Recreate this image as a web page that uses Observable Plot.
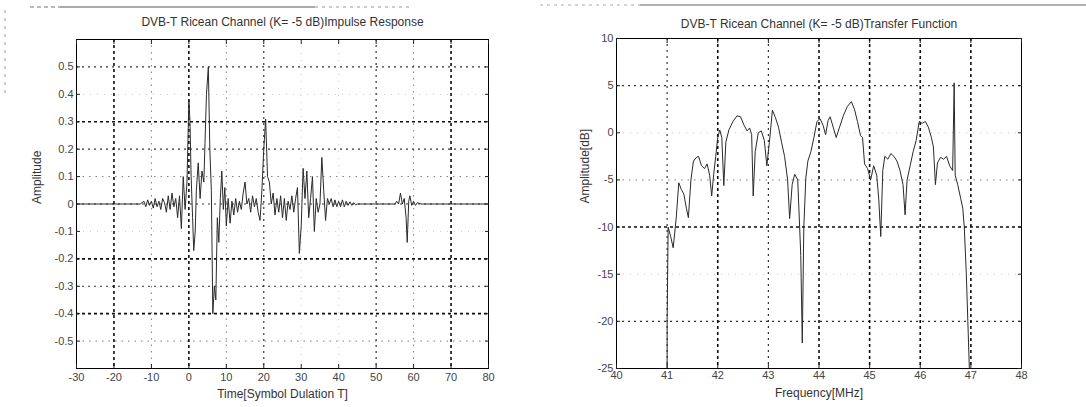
<!DOCTYPE html>
<html>
<head>
<meta charset="utf-8">
<script src="https://cdn.jsdelivr.net/npm/d3@7"></script>
<script src="https://cdn.jsdelivr.net/npm/@observablehq/plot@0.6"></script>
<style>
  body { margin: 0; background: #fff; }
  #wrap { position: relative; width: 1086px; height: 407px; overflow: hidden; background: #fff; }
  #wrap svg { position: absolute; top: 0; }
</style>
</head>
<body>
<div id="wrap"></div>
<script>
// ---- Impulse response of the Ricean channel (time in symbol durations T) ----
const impulseTime = [
  -30, -13, -12, -11.5, -11, -10.5, -10, -9.5, -9, -8.5,
  -8, -7.5, -7, -6.5, -6, -5.5, -5, -4.5, -4, -3.5,
  -3, -2.5, -2, -1.5, -1, -0.5, 0, 0.3, 0.6, 1,
  1.3, 1.7, 2, 2.5, 3, 3.5, 4, 4.3, 4.7, 5.2,
  5.6, 6, 6.4, 6.8, 7.2, 7.6, 8, 8.4, 8.8, 9.2,
  9.6, 10, 10.5, 11, 11.5, 12, 12.5, 13, 13.5, 14,
  14.5, 15, 15.5, 16, 16.5, 17, 17.5, 18, 18.5, 19,
  19.5, 20, 20.5, 21, 21.5, 22, 22.5, 23, 23.5, 24,
  24.5, 25, 25.5, 26, 26.5, 27, 27.5, 28, 28.5, 29,
  29.5, 30, 30.5, 31, 31.5, 32, 32.5, 33, 33.5, 34,
  34.5, 35, 35.5, 36, 36.5, 37, 37.5, 38, 38.5, 39,
  39.5, 40, 40.5, 41, 41.5, 42, 42.5, 43, 43.5, 44,
  44.5, 45, 55, 55.5, 56, 56.5, 57, 57.5, 58, 58.3,
  58.7, 59, 59.5, 60, 60.5, 61, 62, 80
];
const impulseAmp = [
  0, 0, 0.01, -0.01, 0.015, -0.005, 0.01, -0.015, 0.02, -0.01,
  0.01, -0.02, 0.02, 0.005, -0.03, 0.03, -0.02, 0.04, -0.01, 0.02,
  -0.05, 0.03, -0.09, 0.10, -0.02, 0.08, 0.38, 0.30, 0.10, -0.05,
  -0.17, -0.10, 0.05, 0.15, 0.02, 0.12, 0.08, 0.22, 0.40, 0.50,
  0.20, 0.05, -0.40, -0.30, -0.35, -0.05, -0.14, 0.02, 0.12, -0.02,
  0.06, -0.08, 0.02, -0.07, 0.01, -0.04, 0.02, -0.03, 0.01, -0.02,
  0.04, 0.08, 0.00, 0.02, -0.03, 0.03, -0.01, 0.02, -0.03, -0.06,
  0.05, 0.20, 0.31, 0.10, 0.08, 0.00, 0.04, -0.04, 0.02, -0.03,
  0.03, -0.05, 0.02, -0.06, 0.01, -0.02, 0.03, -0.03, 0.02, 0.06,
  -0.18, -0.08, 0.13, 0.02, 0.12, -0.05, 0.02, 0.10, -0.10, 0.02,
  -0.03, 0.00, 0.17, 0.05, -0.06, 0.02, 0.00, 0.02, -0.01, 0.015,
  -0.01, 0.01, -0.01, 0.015, -0.01, 0.01, -0.005, 0.008, -0.005, 0.005,
  -0.003, 0, 0, 0.01, 0.00, 0.04, 0.00, 0.02, -0.05, -0.14,
  0.01, 0.03, -0.005, 0.01, -0.005, 0.005, 0, 0
];

// ---- Transfer function (frequency in MHz, gain in dB) ----
const freqMHz = [
  41.0, 41.0, 41.02, 41.07, 41.12, 41.18, 41.23, 41.28, 41.33, 41.38,
  41.42, 41.47, 41.52, 41.58, 41.62, 41.68, 41.74, 41.79, 41.84, 41.88,
  41.92, 41.96, 42.0, 42.04, 42.08, 42.12, 42.16, 42.22, 42.3, 42.38,
  42.45, 42.52, 42.58, 42.63, 42.67, 42.7, 42.74, 42.8, 42.86, 42.92,
  42.97, 43.02, 43.08, 43.14, 43.2, 43.26, 43.32, 43.38, 43.42, 43.47,
  43.52, 43.58, 43.64, 43.67, 43.7, 43.74, 43.78, 43.84, 43.9, 43.96,
  44.02, 44.08, 44.13, 44.18, 44.22, 44.28, 44.34, 44.4, 44.48, 44.56,
  44.64, 44.7, 44.76, 44.82, 44.86, 44.9, 44.96, 45.02, 45.08, 45.14,
  45.18, 45.22, 45.26, 45.3, 45.36, 45.42, 45.48, 45.54, 45.6, 45.66,
  45.7, 45.74, 45.8, 45.86, 45.92, 45.98, 46.04, 46.1, 46.16, 46.22,
  46.26, 46.3, 46.34, 46.4, 46.46, 46.52, 46.58, 46.64, 46.67, 46.69,
  46.74, 46.8, 46.84, 46.87, 46.91, 46.94, 46.97
];
const gainDb = [
  -25, -20, -10, -11, -12.2, -9, -5.3, -6, -6.5, -8,
  -9, -5, -3, -2.6, -2.5, -3.5, -3.8, -3.3, -4.5, -6.7,
  -4.4, -2.5, -0.5, 0.3, -0.5, -5.6, -1, 0.3, 1.2, 1.8,
  1.7, 0.8, 0.2, 0.5, -0.2, -6.7, -2, 0, 0.2, -0.8,
  -3.5, -1, 2.4, 1.6, 0.6, -1, -2.5, -5, -9.1, -5.5,
  -4.4, -5, -13, -22.3, -10, -4.8, -3, -2, -0.5, 1.2,
  1.5, 0.8, -0.2, 1.3, 1.7, 0.6, -0.5, 0.5, 1.8, 2.8,
  3.3, 2.5, 1.2, -0.3, -0.5, -3.3, -3.8, -5, -3.5, -4.5,
  -7, -11, -4, -2.5, -2.8, -2.2, -2.5, -3, -4, -5.5,
  -8.7, -5, -3.5, -2, -0.8, 1.2, 1.0, 1.2, 0.6, -0.5,
  -1.5, -5.5, -3.2, -2.6, -2.8, -2.5, -3.5, -4, 5.3, -4.5,
  -5.5, -7, -8, -10, -15, -20, -25
];

// ---- Tick values ----
const timeTicks = [-30, -20, -10, 0, 10, 20, 30, 40, 50, 60, 70, 80];
const ampTicks = [-0.5, -0.4, -0.3, -0.2, -0.1, 0, 0.1, 0.2, 0.3, 0.4, 0.5];
const freqTicks = [40, 41, 42, 43, 44, 45, 46, 47, 48];
const dbTicks = [-25, -20, -15, -10, -5, 0, 5, 10];

// Dotted grid weights (how strongly each grid line prints)
const gridStyle = {
  bold:   {strokeWidth: 1.6, strokeDasharray: "3,3", strokeOpacity: 0.95},
  medium: {strokeWidth: 1.2, strokeDasharray: "2,4", strokeOpacity: 0.8},
  light:  {strokeWidth: 1,   strokeDasharray: "1.5,5", strokeOpacity: 0.5},
  faint:  {strokeWidth: 1,   strokeDasharray: "1,6", strokeOpacity: 0.22}
};
const impulseGridX = {"-20": "bold", "-10": "light", "0": "bold", "10": "light", "20": "medium",
  "30": "faint", "40": "faint", "50": "medium", "60": "light", "70": "bold"};
const impulseGridY = {"0.5": "medium", "0.4": "faint", "0.3": "bold", "0.2": "medium", "0.1": "light",
  "0": "medium", "-0.1": "faint", "-0.2": "bold", "-0.3": "medium", "-0.4": "bold", "-0.5": "light"};
const transferGridX = {"41": "medium", "42": "bold", "43": "medium", "44": "bold", "45": "bold", "46": "bold", "47": "bold"};
const transferGridY = {"5": "medium", "0": "faint", "-5": "light", "-10": "bold", "-15": "faint", "-20": "medium"};

const fontFamily = "'Liberation Sans', Arial, sans-serif";
const fmt = d => String(d);

function grid(xTicks, xWeights, yTicks, yWeights) {
  const marks = [];
  for (const w of Object.keys(gridStyle)) {
    const xs = xTicks.filter(t => xWeights[String(t)] === w);
    const ys = yTicks.filter(t => yWeights[String(t)] === w);
    if (xs.length) marks.push(Plot.ruleX(xs, {stroke: "#000", ...gridStyle[w]}));
    if (ys.length) marks.push(Plot.ruleY(ys, {stroke: "#000", ...gridStyle[w]}));
  }
  return marks;
}

// Boxed axes with inward ticks on all four sides
function boxAxes(xTicks, yTicks, xPad, yPad) {
  return [
    Plot.frame({stroke: "#000", strokeWidth: 1}),
    Plot.axisX(xTicks, {anchor: "bottom", tickSize: -4, tickPadding: xPad, tickFormat: fmt, label: null, fill: "#444"}),
    Plot.axisX(xTicks, {anchor: "top", tickSize: -4, tickFormat: () => "", label: null}),
    Plot.axisY(yTicks, {anchor: "left", tickSize: -4, tickPadding: yPad, tickFormat: fmt, label: null, fill: "#444"}),
    Plot.axisY(yTicks, {anchor: "right", tickSize: -4, tickFormat: () => "", label: null})
  ];
}

const impulse = impulseTime.map((t, i) => ({t, a: impulseAmp[i]}));
const transfer = freqMHz.map((f, i) => ({f, g: gainDb[i]}));

const left = Plot.plot({
  width: 543, height: 407,
  marginLeft: 76, marginRight: 55, marginTop: 39, marginBottom: 39,
  x: {domain: [-30, 80]},
  y: {domain: [-0.6, 0.6]},
  style: {fontFamily, fontSize: "11px", background: "transparent", color: "#222"},
  marks: [
    ...grid(timeTicks, impulseGridX, ampTicks, impulseGridY),
    Plot.line(impulse, {x: "t", y: "a", stroke: "#2a2a2a", strokeWidth: 1}),
    ...boxAxes(timeTicks, ampTicks, 9, 7),
    Plot.text(["DVB-T Ricean Channel (K= -5 dB)Impulse Response"], {text: d => d, frameAnchor: "top", dy: -22, fontSize: 12, fill: "#333"}),
    Plot.text(["Time[Symbol Dulation T]"], {text: d => d, frameAnchor: "bottom", dy: 29, fontSize: 12, fill: "#333"}),
    Plot.text(["Amplitude"], {text: d => d, frameAnchor: "left", dx: -39, rotate: -90, fontSize: 12, fill: "#333"})
  ]
});
left.style.left = "0px";

const right = Plot.plot({
  width: 543, height: 407,
  marginLeft: 73, marginRight: 65, marginTop: 38, marginBottom: 39,
  x: {domain: [40, 48]},
  y: {domain: [-25, 10]},
  style: {fontFamily, fontSize: "11px", background: "transparent", color: "#222"},
  marks: [
    ...grid(freqTicks, transferGridX, dbTicks, transferGridY),
    Plot.line(transfer, {x: "f", y: "g", stroke: "#2a2a2a", strokeWidth: 1}),
    ...boxAxes(freqTicks, dbTicks, 7, 7),
    Plot.text(["DVB-T Ricean Channel (K= -5 dB)Transfer Function"], {text: d => d, frameAnchor: "top", dy: -19, fontSize: 12, fill: "#333"}),
    Plot.text(["Frequency[MHz]"], {text: d => d, frameAnchor: "bottom", dy: 28, fontSize: 12, fill: "#333"}),
    Plot.text(["Amplitude[dB]"], {text: d => d, frameAnchor: "left", dx: -31, rotate: -90, fontSize: 12, fill: "#333"})
  ]
});
right.style.left = "543px";

// Page border strokes along the top edge of the sheet
const border = d3.create("svg").attr("width", 1086).attr("height", 407).style("left", "0px").style("pointer-events", "none");
border.append("line").attr("x1", 30).attr("y1", 7).attr("x2", 60).attr("y2", 7)
  .attr("stroke", "#777").attr("stroke-dasharray", "4,3");
border.append("line").attr("x1", 60).attr("y1", 7).attr("x2", 315).attr("y2", 7).attr("stroke", "#555");
border.append("line").attr("x1", 315).attr("y1", 7).attr("x2", 410).attr("y2", 7)
  .attr("stroke", "#999").attr("stroke-dasharray", "3,4");
border.append("line").attr("x1", 5).attr("y1", 10).attr("x2", 5).attr("y2", 95)
  .attr("stroke", "#999").attr("stroke-dasharray", "3,5");
border.append("line").attr("x1", 540).attr("y1", 5).attr("x2", 640).attr("y2", 5)
  .attr("stroke", "#aaa").attr("stroke-dasharray", "3,4");
border.append("line").attr("x1", 640).attr("y1", 5).attr("x2", 1086).attr("y2", 5).attr("stroke", "#666");

const wrap = document.getElementById("wrap");
wrap.appendChild(border.node());
wrap.appendChild(left);
wrap.appendChild(right);
</script>
</body>
</html>
